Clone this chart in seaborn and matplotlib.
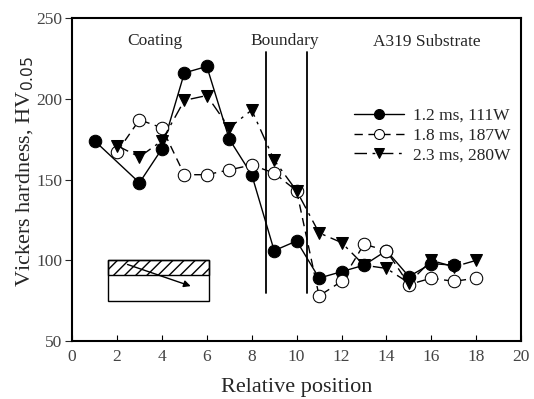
import matplotlib
matplotlib.use("Agg")
import matplotlib.pyplot as plt
import matplotlib.patches as mpatches
import numpy as np
import pandas as pd
import seaborn as sns

# values
x_111 = [1, 3, 4, 5, 6, 7, 8, 9, 10, 11, 12, 13, 14, 15, 16, 17]
hv_111 = [174, 148, 169, 216, 220, 175, 153, 106, 112, 89, 93, 97, 106, 90, 98, 97]

x_187 = [2, 3, 4, 5, 6, 7, 8, 9, 10, 11, 12, 13, 14, 15, 16, 17, 18]
hv_187 = [167, 187, 182, 153, 153, 156, 159, 154, 143, 78, 87, 110, 106, 85, 89, 87, 89]

x_280 = [2, 3, 4, 5, 6, 7, 8, 9, 10, 11, 12, 13, 14, 15, 16, 17, 18]
hv_280 = [171, 164, 174, 199, 202, 182, 193, 162, 143, 117, 111, 97, 95, 86, 100, 96, 100]

labels = ["1.2 ms, 111W", "1.8 ms, 187W", "2.3 ms, 280W"]
boundary_x = [8.65, 10.45]

sns.set_style("ticks")
plt.rcParams['font.family'] = ['Liberation Serif', 'DejaVu Serif']
plt.rcParams['hatch.linewidth'] = 1.0

fig = plt.figure(figsize=(5.34, 3.99), dpi=100)
ax = fig.add_axes([0.135, 0.145, 0.841, 0.81])

df1 = pd.DataFrame({"x": x_111, "y": hv_111})
df2 = pd.DataFrame({"x": x_187, "y": hv_187})
df3 = pd.DataFrame({"x": x_280, "y": hv_280})

sns.lineplot(data=df1, x="x", y="y", ax=ax, color="black", linewidth=1.0,
             marker="o", markersize=9, markerfacecolor="black",
             markeredgecolor="black", label=labels[0])
sns.lineplot(data=df2, x="x", y="y", ax=ax, color="black", linewidth=1.0,
             linestyle=(0, (6, 4)), marker="o", markersize=9,
             markerfacecolor="white", markeredgecolor="black", label=labels[1])
sns.lineplot(data=df3, x="x", y="y", ax=ax, color="black", linewidth=1.0,
             linestyle=(0, (9, 4, 2, 4)), marker="v", markersize=9,
             markerfacecolor="black", markeredgecolor="black", label=labels[2])

for bx in boundary_x:
    ax.plot([bx, bx], [80, 229], color="black", linewidth=1.3)

# inset sketch of coating / substrate
ax.add_patch(mpatches.Rectangle((1.6, 75), 4.5, 25, fill=False,
                                edgecolor="black", linewidth=1.0))
ax.add_patch(mpatches.Rectangle((1.6, 91), 4.5, 9, fill=False, hatch="///",
                                edgecolor="black", linewidth=1.0))
ax.annotate("", xy=(5.4, 83.5), xytext=(2.35, 98),
            arrowprops=dict(arrowstyle="-|>", color="black", lw=1.0,
                            mutation_scale=10))

ax.text(3.7, 236, "Coating", ha="center", va="center", fontsize=12.5)
ax.text(9.45, 236, "Boundary", ha="center", va="center", fontsize=12.5)
ax.text(15.8, 235, "A319 Substrate", ha="center", va="center", fontsize=12.5)

ax.set_xlim(0, 20)
ax.set_ylim(50, 250)
ax.set_xticks(np.arange(0, 21, 2))
ax.set_yticks(np.arange(50, 251, 50))
ax.tick_params(axis="x", direction="in", length=4, labelsize=12.5, colors="black",
               labelcolor="#444444", pad=6)
ax.tick_params(axis="y", direction="out", length=5, labelsize=12.5,
               labelcolor="#444444", pad=2)
for s in ax.spines.values():
    s.set_visible(True)
    s.set_linewidth(1.5)
    s.set_color("black")

ax.set_xlabel("Relative position", fontsize=16, labelpad=9)
ax.set_ylabel("Vickers hardness, HV$_{0.05}$", fontsize=16)
ax.yaxis.set_label_coords(-0.08, 0.526)

leg = ax.legend(loc="upper right", bbox_to_anchor=(1.01, 0.77), frameon=False,
                fontsize=12.5, handlelength=2.9, handletextpad=0.5,
                labelspacing=0.2, markerscale=0.8)

fig.savefig("out.png", dpi=100)
